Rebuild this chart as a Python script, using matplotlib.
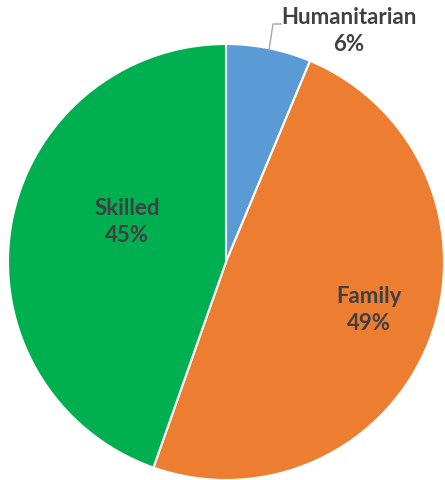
import matplotlib
matplotlib.use('Agg')
import matplotlib.pyplot as plt

# Visa categories and share (%)
labels = ['Humanitarian', 'Family', 'Skilled']
shares = [6.3, 49.1, 44.6]
colors = ['#5B9BD5', '#ED7D31', '#00B050']

fig = plt.figure(figsize=(4.45, 4.8), dpi=100)
ax = fig.add_axes([0, 0, 1, 1])

wedges, _ = ax.pie(shares, colors=colors, startangle=90, counterclock=False,
                   center=(226, 218), radius=218,
                   wedgeprops=dict(edgecolor='white', linewidth=1.5))
ax.set_xlim(0, 445)
ax.set_ylim(0, 480)
ax.set_aspect('equal')
ax.axis('off')

txt = dict(fontsize=16, fontweight='bold', color='#404040', family='Lato',
           ha='center', va='center', linespacing=1.35)
pos = [(349, 449), (369, 170), (127, 258)]
for (x, y), lab, s in zip(pos, labels, shares):
    ax.text(x, y, lab + '\n' + str(round(s)) + '%', **txt)

# leader line for the small slice
ax.plot([269, 273, 281], [430, 456, 456], color='#A6A6A6', lw=1)

fig.savefig('out.png', dpi=100)
